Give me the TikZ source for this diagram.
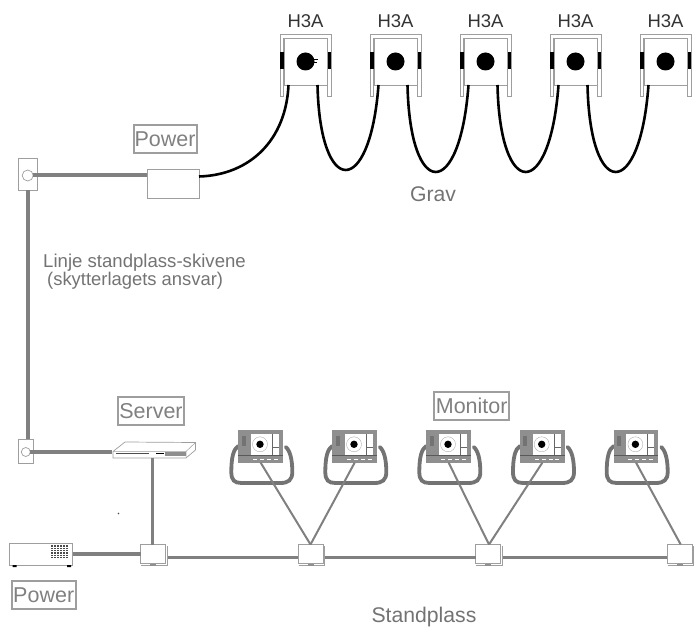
\documentclass[tikz,border=0pt]{standalone}
\usepackage{fontspec}
\setmainfont{Liberation Sans}
\usetikzlibrary{positioning}
\definecolor{cablegray}{gray}{0.5}
\definecolor{bodygray}{gray}{0.56}
\definecolor{edgegray}{gray}{0.62}
\tikzset{
	lbl/.style={inner sep=0pt,text=black!55,font=\fontsize{21.2}{21.2}\selectfont},
	tag/.style={draw=edgegray,line width=2pt,inner sep=0pt,text=cablegray,font=\fontsize{21.5}{21.5}\selectfont,minimum height=28pt},
	box/.style={draw=edgegray,fill=white,line width=.7pt,inner sep=0pt,outer sep=0pt},
	cable/.style={draw=cablegray,line width=3.2pt},
	blackcable/.style={draw=black,line width=2.6pt},
	thincable/.style={draw=cablegray,line width=2pt},
}
\begin{document}
\begin{tikzpicture}[x=1pt,y=-1pt]
	\useasboundingbox (0,0) rectangle (699,628);
	% targets
	\foreach \i/\x in {1/280,2/370,3/460,4/550,5/640}{
		\draw[box] (\x,96) -- (\x,34) -- (\x+51,34) -- (\x+51,96) -- (\x+47.5,96) -- (\x+47.5,38) -- (\x+3.5,38) -- (\x+3.5,96) -- cycle;
		\fill (\x,52) rectangle (\x+4,69);
		\fill (\x+47,52) rectangle (\x+51,69);
		\node[box,minimum width=43pt,minimum height=47pt] (h\i) at (\x+25.5,61.5) {};
		\fill (h\i.center) circle (9);
		\node[lbl,text=black!80,font=\fontsize{18.5}{18.5}\selectfont,anchor=south,yshift=10pt] (t\i) at (h\i.north) {H3A};
	}
	\draw[black,line width=.6pt] (314,59.5) -- (318,59.5) (314,62) -- (317,62);
	\node[box,minimum width=52pt,minimum height=29pt] (psu) at (173,183.5) {};
	\node[tag,minimum width=63pt] (power1) at (165,139) {Power};
	\node[lbl] (grav) at (433,194) {Grav};
	\draw[blackcable] (psu.east |- 0,176.5) .. controls (250,175) and (286,140) .. ([xshift=4.5pt]h1.south west);
	\foreach \a/\b/\d in {1/2/170,2/3/172,3/4/172,4/5/172}{
		\draw[blackcable] ([xshift=-9.5pt]h\a.south east) .. controls ([xshift=-7pt,yshift={(85-\d)*1.333}]h\a.south east) and ([xshift=-4pt,yshift={(85-\d)*1.333}]h\b.south west) .. ([xshift=4.5pt]h\b.south west);
	}
	% wall sockets
	\node[box,minimum width=19pt,minimum height=32pt] (wall1) at (28,174) {};
	\node[box,circle,minimum size=11pt] (plug1) at (27.7,175.5) {};
	\node[box,minimum width=15pt,minimum height=24pt] (wall2) at (25.5,451) {};
	\node[box,circle,minimum size=9pt] (plug2) at (25.8,452) {};
	\draw[cable,line width=4pt] (plug1.east) -- (plug1.east -| psu.west);
	\draw[cable] (wall1.south) -- (wall1.south |- wall2.north);
	\node[lbl,font=\fontsize{18.6}{18.6}\selectfont,anchor=base west] (line1) at (43,267.5) {Linje standplass-skivene};
	\node[lbl,font=\fontsize{18.4}{18.4}\selectfont,anchor=base west] (line2) at (47,285.5) {(skytterlagets ansvar)};
	% server
	\node[inner sep=0pt,minimum width=83pt,minimum height=16pt] (server) at (154,450) {};
	\draw[box,fill=white] (113,451.5) -- (125,442) -- (195.5,442.5) -- (195.5,450) -- (186,458) -- (113,458) -- cycle;
	\draw[edgegray,line width=.5pt] (113,451.5) -- (186,451.5) -- (195.5,442.5) (186,451.5) -- (186,458);
	\draw[black!70,line width=1pt] (116,453.5) -- (149,453.5);
	\draw[black,line width=.8pt] (156,453.5) -- (164,453.5);
	\fill[bodygray] (165,451.5) rectangle (185.5,456);
	\node[tag,minimum width=66pt] (srv) at (151,411.3) {Server};
	\draw[cable] (plug2.east) -- (plug2.east -| server.west);
	\fill[black!70] (118.5,513.5) circle (.8);
	% power supply
	\node[box,minimum width=63pt,minimum height=22pt] (supply) at (41.3,554) {};
	\fill[black!70] (50.7,545) rectangle (68,558);
	\foreach \k in {1,...,5}{\draw[white,line width=.35pt] (50.7,545+\k*2.2) -- (68,545+\k*2.2) (50.7+\k*2.9,545) -- (50.7+\k*2.9,558);}
	\fill (12.5,565) rectangle (16.5,567) (67,565) rectangle (71,567);
	\node[tag,minimum width=64pt] (power2) at (43.7,595.3) {Power};
	% junctions
	\foreach \i/\x in {1/153.3,2/310.5,3/488,4/679.7}{
		\draw[edgegray,line width=.7pt] (\x-12,565) -- (\x+14,565) -- (\x+14,546);
		\fill[bodygray] (\x-3,563) rectangle (\x+3,565.5);
		\node[box,minimum width=25pt,minimum height=19pt] (j\i) at (\x,554) {};
	}
	\draw[cable] (supply.east) -- (j1.west);
	\draw[cable] ([xshift=-1pt]server.south -| j1.north) -- ([xshift=-1pt]j1.north);
	\foreach \a/\b in {1/2,2/3,3/4}
		\draw[cable] ([xshift=2pt,yshift=-3.3pt]j\a.east) -- ([yshift=-3.3pt]j\b.west);
	% monitors
	\foreach \i/\x in {1/238.3,2/332.3,3/426.3,4/520,5/613.7}{
		\draw[draw=black!55,line width=3.8pt,line cap=round] (\x,446) .. controls (\x-5,449) and (\x-7,458) .. (\x-7,472) .. controls (\x-7,480) and (\x-4,483) .. (\x+3,483) -- (\x+42,483) .. controls (\x+50,483) and (\x+54,480) .. (\x+54,472) .. controls (\x+54,460) and (\x+52,451) .. (\x+47.5,447);
		\node[inner sep=0pt,outer sep=0pt,fill=bodygray,minimum width=44.7pt,minimum height=32.7pt] (m\i) at (\x+22.35,446.3) {};
		\fill[white] (\x+12.7,434) rectangle (\x+40.7,454.7);
		\draw[black!60,line width=.6pt] (\x+34,434) -- (\x+34,454.7) (\x+34,447) -- (\x+40.7,447);
		\draw[edgegray,line width=.3pt] (\x+21.7,444.3) circle (7.5);
		\fill (\x+21.7,444.3) circle (3.7);
		\fill[black!55] (\x+3.4,436) rectangle (\x+7.2,446);
		\draw[black!65,line width=.7pt] (\x,455.8) -- (\x+44.7,455.8);
		\foreach \b in {16.7,23.7,30.7,37.4}{\fill[white] (\x+\b-2,458.6) rectangle (\x+\b+2,460);}
	}
	\draw[thincable] (m1.south) -- (j2.north);
	\draw[thincable] (m2.south) -- (j2.north);
	\draw[thincable] (m3.south) -- ([xshift=1pt]j3.north);
	\draw[thincable] (m4.south) -- ([xshift=1pt]j3.north);
	\draw[thincable] (m5.south) -- ([xshift=1pt]j4.north);
	\node[tag,minimum width=74.7pt] (mon) at (471.7,406) {Monitor};
	\node[lbl] (stand) at (424,617) {Standplass};
\end{tikzpicture}
\end{document}
